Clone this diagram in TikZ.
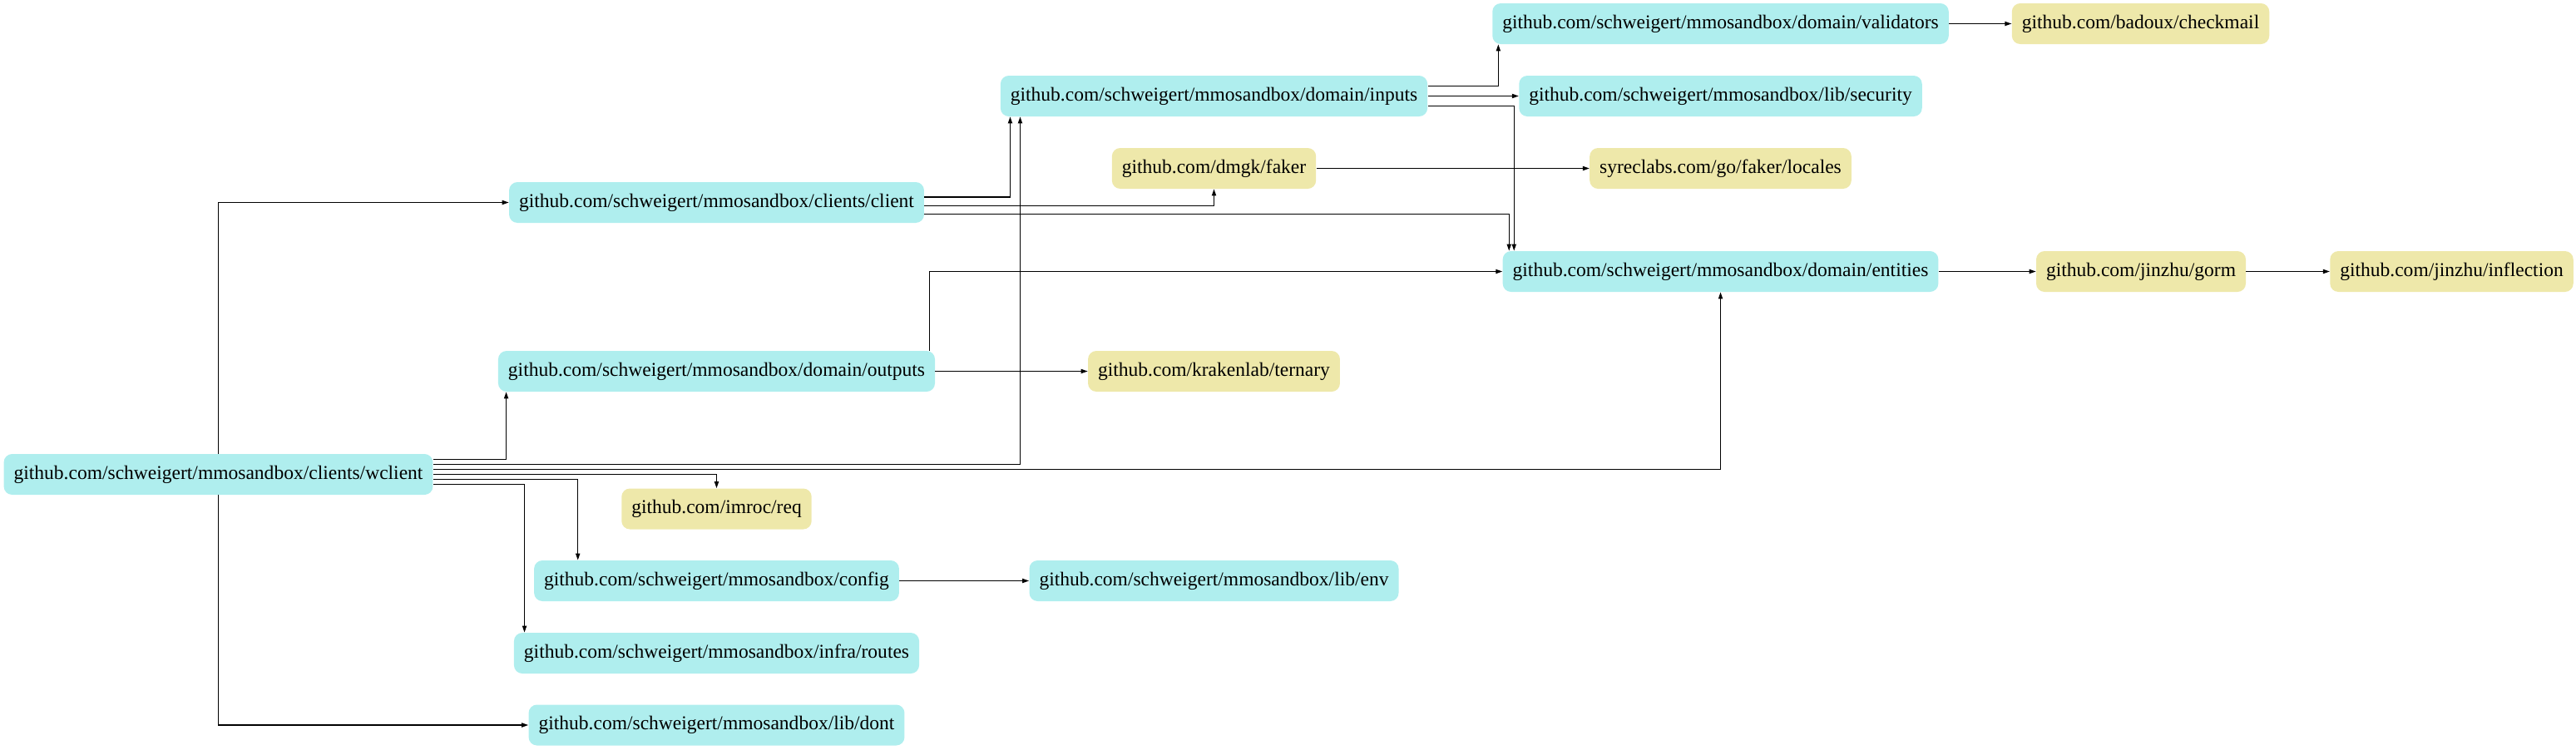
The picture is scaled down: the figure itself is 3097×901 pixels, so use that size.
\documentclass[tikz,border=0pt]{standalone}
\usepackage{fontspec}
\setmainfont{Liberation Serif}
\usepackage{tikz}
\usetikzlibrary{positioning}
\usetikzlibrary{arrows.meta}
\usetikzlibrary{calc}

\definecolor{paleturq}{HTML}{AFEEEE}
\definecolor{palegold}{HTML}{EEE8AA}

\begin{document}
\begin{tikzpicture}[x=0.5pt,y=-0.5pt]
\tikzset{pkg/.style={rectangle,minimum height=24.5pt,inner xsep=6pt,inner ysep=0pt, rounded corners=5pt, fill=paleturq, font=\fontsize{11.76}{14}\selectfont}}
\tikzset{extpkg/.style={pkg, fill=palegold}}
\tikzset{dep/.style={draw=black,line width=0.6pt,-{Triangle[length=4pt,width=2.6pt]}}}
\useasboundingbox (0,0) rectangle (3097,901);
% first column
\node[pkg] (wclient) at (262.5,570.5) {github.com/schweigert/mmosandbox/clients/wclient};
% second column
\node[pkg] (client) at (861.5,243.5) {github.com/schweigert/mmosandbox/clients/client};
\node[pkg] (outputs) at (861.5,446.5) {github.com/schweigert/mmosandbox/domain/outputs};
\node[extpkg] (req) at (861.5,612) {github.com/imroc/req};
\node[pkg] (config) at (861.5,698.5) {github.com/schweigert/mmosandbox/config};
\node[pkg] (routes) at (861.5,785.5) {github.com/schweigert/mmosandbox/infra/routes};
\node[pkg] (dont) at (861.5,872) {github.com/schweigert/mmosandbox/lib/dont};
% third column
\node[pkg] (inputs) at (1459.5,115.5) {github.com/schweigert/mmosandbox/domain/inputs};
\node[extpkg] (faker) at (1459.5,202.5) {github.com/dmgk/faker};
\node[extpkg] (ternary) at (1459.5,446.5) {github.com/krakenlab/ternary};
\node[pkg] (env) at (1459.5,698.5) {github.com/schweigert/mmosandbox/lib/env};
% fourth column
\node[pkg] (validators) at (2068.5,28.5) {github.com/schweigert/mmosandbox/domain/validators};
\node[pkg] (security) at (2068.5,115.5) {github.com/schweigert/mmosandbox/lib/security};
\node[extpkg] (locales) at (2068.5,202.5) {syreclabs.com/go/faker/locales};
\node[pkg] (entities) at (2068.5,326.5) {github.com/schweigert/mmosandbox/domain/entities};
% right side
\node[extpkg] (checkmail) at (2573.5,28.5) {github.com/badoux/checkmail};
\node[extpkg] (gorm) at (2574,326.5) {github.com/jinzhu/gorm};
\node[extpkg] (inflection) at (2947.5,326.5) {github.com/jinzhu/inflection};

% edges from wclient
\draw[dep] (wclient.north) |- (client.west);
\draw[dep] ([yshift=9pt]wclient.east) -| ([xshift=5pt]outputs.south west);
\draw[dep] ([yshift=6pt]wclient.east) -| ([xshift=12pt]inputs.south west);
\draw[dep] ([yshift=3pt]wclient.east) -| (entities.south);
\draw[dep] (wclient.east) -| (req.north);
\draw[dep] ([yshift=-3pt]wclient.east) -| ([xshift=26.5pt]config.north west);
\draw[dep] ([yshift=-6pt]wclient.east) -| ([xshift=6.5pt]routes.north west);
\draw[dep] (wclient.south) |- (dont.west);
% edges from client
\draw[dep] ([yshift=3.25pt]client.east) -| ([xshift=6pt]inputs.south west);
\draw[dep] ([yshift=-2pt]client.east) -| (faker.south);
\draw[dep] ([yshift=-7pt]client.east) -| ([xshift=4pt]entities.north west);
% edges from inputs
\draw[dep] ([yshift=6pt]inputs.east) -| ([xshift=3.75pt]validators.south west);
\draw[dep] (inputs.east) -- (security.west);
\draw[dep] ([yshift=-6pt]inputs.east) -| ([xshift=7pt]entities.north west);
% remaining edges
\draw[dep] ([xshift=-3.5pt]outputs.north east) |- (entities.west);
\draw[dep] (outputs.east) -- (ternary.west);
\draw[dep] (faker.east) -- (locales.west);
\draw[dep] (validators.east) -- (checkmail.west);
\draw[dep] (entities.east) -- (gorm.west);
\draw[dep] (gorm.east) -- (inflection.west);
\draw[dep] (config.east) -- (env.west);
\end{tikzpicture}
\end{document}
